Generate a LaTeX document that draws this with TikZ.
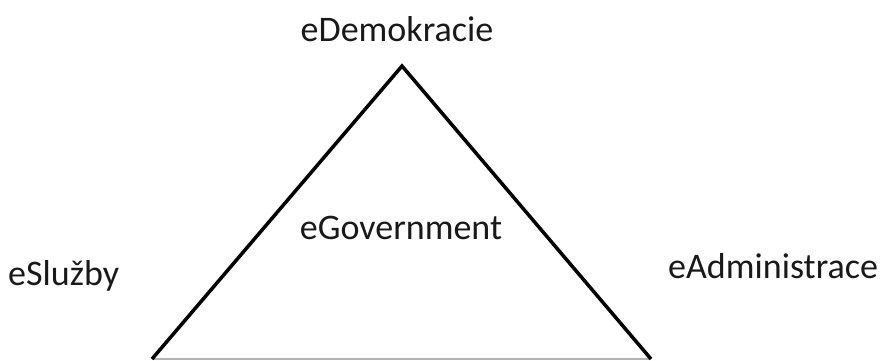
\documentclass[tikz,border=0pt]{standalone}
\usepackage{fontspec}
\setmainfont{Carlito}
\begin{document}
\begin{tikzpicture}[x=1pt,y=-1pt,
  lbl/.style={inner sep=0pt, font=\fontsize{36}{40}\selectfont, text=black!90, anchor=base},
  edge/.style={line width=3.5pt, line join=miter, black}]
\useasboundingbox (0,0) rectangle (885,360);
\coordinate (top) at (402,66);
\coordinate (bl) at (152,359);
\coordinate (br) at (651,359);
\draw[gray!60, line width=1.2pt] (bl) -- (br);
\draw[edge] (bl) -- (top) -- (br);
\node[lbl] (dem) at (397,41) {eDemokracie};
\node[lbl] (gov) at (401,239) {eGovernment};
\node[lbl, anchor=base west] (slu) at (8,285) {eSlužby};
\node[lbl, anchor=base west] (adm) at (668,278) {eAdministrace};
\end{tikzpicture}
\end{document}
